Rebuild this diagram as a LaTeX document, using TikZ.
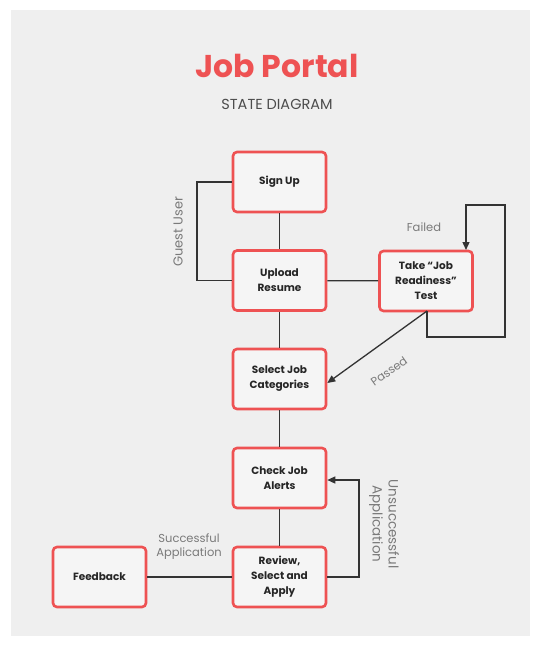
\documentclass[tikz,border=0pt]{standalone}
\usepackage{fontspec}
\setmainfont{Poppins}
\usetikzlibrary{arrows.meta}
\definecolor{portalred}{HTML}{EE5253}
\definecolor{panel}{HTML}{EFEFEF}
\definecolor{labelgray}{HTML}{7A7A7A}
\definecolor{wire}{HTML}{333333}
\begin{document}
\begin{tikzpicture}[x=1pt,y=-1pt,
  state/.style={draw=portalred, line width=2.6pt, rounded corners=4pt, fill=panel!60!white,
    minimum width=93pt, minimum height=60pt, align=center, inner sep=2pt,
    font=\fontsize{10.5}{15}\selectfont\bfseries, text=black!85},
  link/.style={draw=wire, line width=1.3pt},
  arrowlink/.style={link, -{Triangle[length=8pt,width=7pt]}},
  tag/.style={text=labelgray, font=\fontsize{11.5}{14}\selectfont, align=center}]
\useasboundingbox (0,0) rectangle (534,646);
\fill[white] (0,0) rectangle (534,646);
\fill[panel] (11,10) rectangle (530,636);

% heading
\node (title) at (277,66) {\fontsize{31.5}{36}\selectfont\bfseries\color{portalred}Job Portal};
\node (subtitle) at (277,104) {\fontsize{14.5}{17}\selectfont\color{black!70}STATE DIAGRAM};

% states
\node[state] (signup)   at (279.5,182) {Sign Up};
\node[state] (upload)   at (279.5,280.5) {Upload\\Resume};
\node[state] (test)     at (426,281) {Take “Job\\Readiness”\\Test};
\node[state] (category) at (279.5,379) {Select Job\\Categories};
\node[state] (alerts)   at (279.5,478) {Check Job\\Alerts};
\node[state] (apply)    at (279.5,577) {Review,\\Select and\\Apply};
\node[state] (feedback) at (99.5,577) {Feedback};

% main flow
\draw[link] (signup) -- (upload);
\draw[link] (upload) -- (category);
\draw[link] (category) -- (alerts);
\draw[link] (alerts) -- (apply);
\draw[link] (upload) -- (test);
\draw[link] (apply) -- (feedback);

% guest user path
\draw[link] (signup.west) -- (197,182) -- (197,280.5) -- (upload.west);
\node[tag, rotate=90, font=\fontsize{13}{15}\selectfont] (guest) at (178,232) {Guest User};

% retry loop of the readiness test
\coordinate (testout) at (427,311);
\draw[arrowlink] (testout) -- (427,337) -- (505,337) -- (505,205) -- (466,205) -- (466,250);
\node[tag] (failed) at (424,227) {Failed};

% passing the test
\draw[arrowlink] (testout) -- (category.east |- 0,383);
\node[tag, rotate=35] (passed) at (389,371) {Passed};

% unsuccessful application loop
\draw[arrowlink] (apply.east) -- (359,577) -- (359,480) -- (alerts.east |- 0,480);
\node[tag, rotate=-90, font=\fontsize{13.5}{16}\selectfont] (unsucc) at (384,524) {Unsuccessful\\Application};

% successful application
\node[tag] (succ) at (189,547) {Successful\\Application};
\end{tikzpicture}
\end{document}
